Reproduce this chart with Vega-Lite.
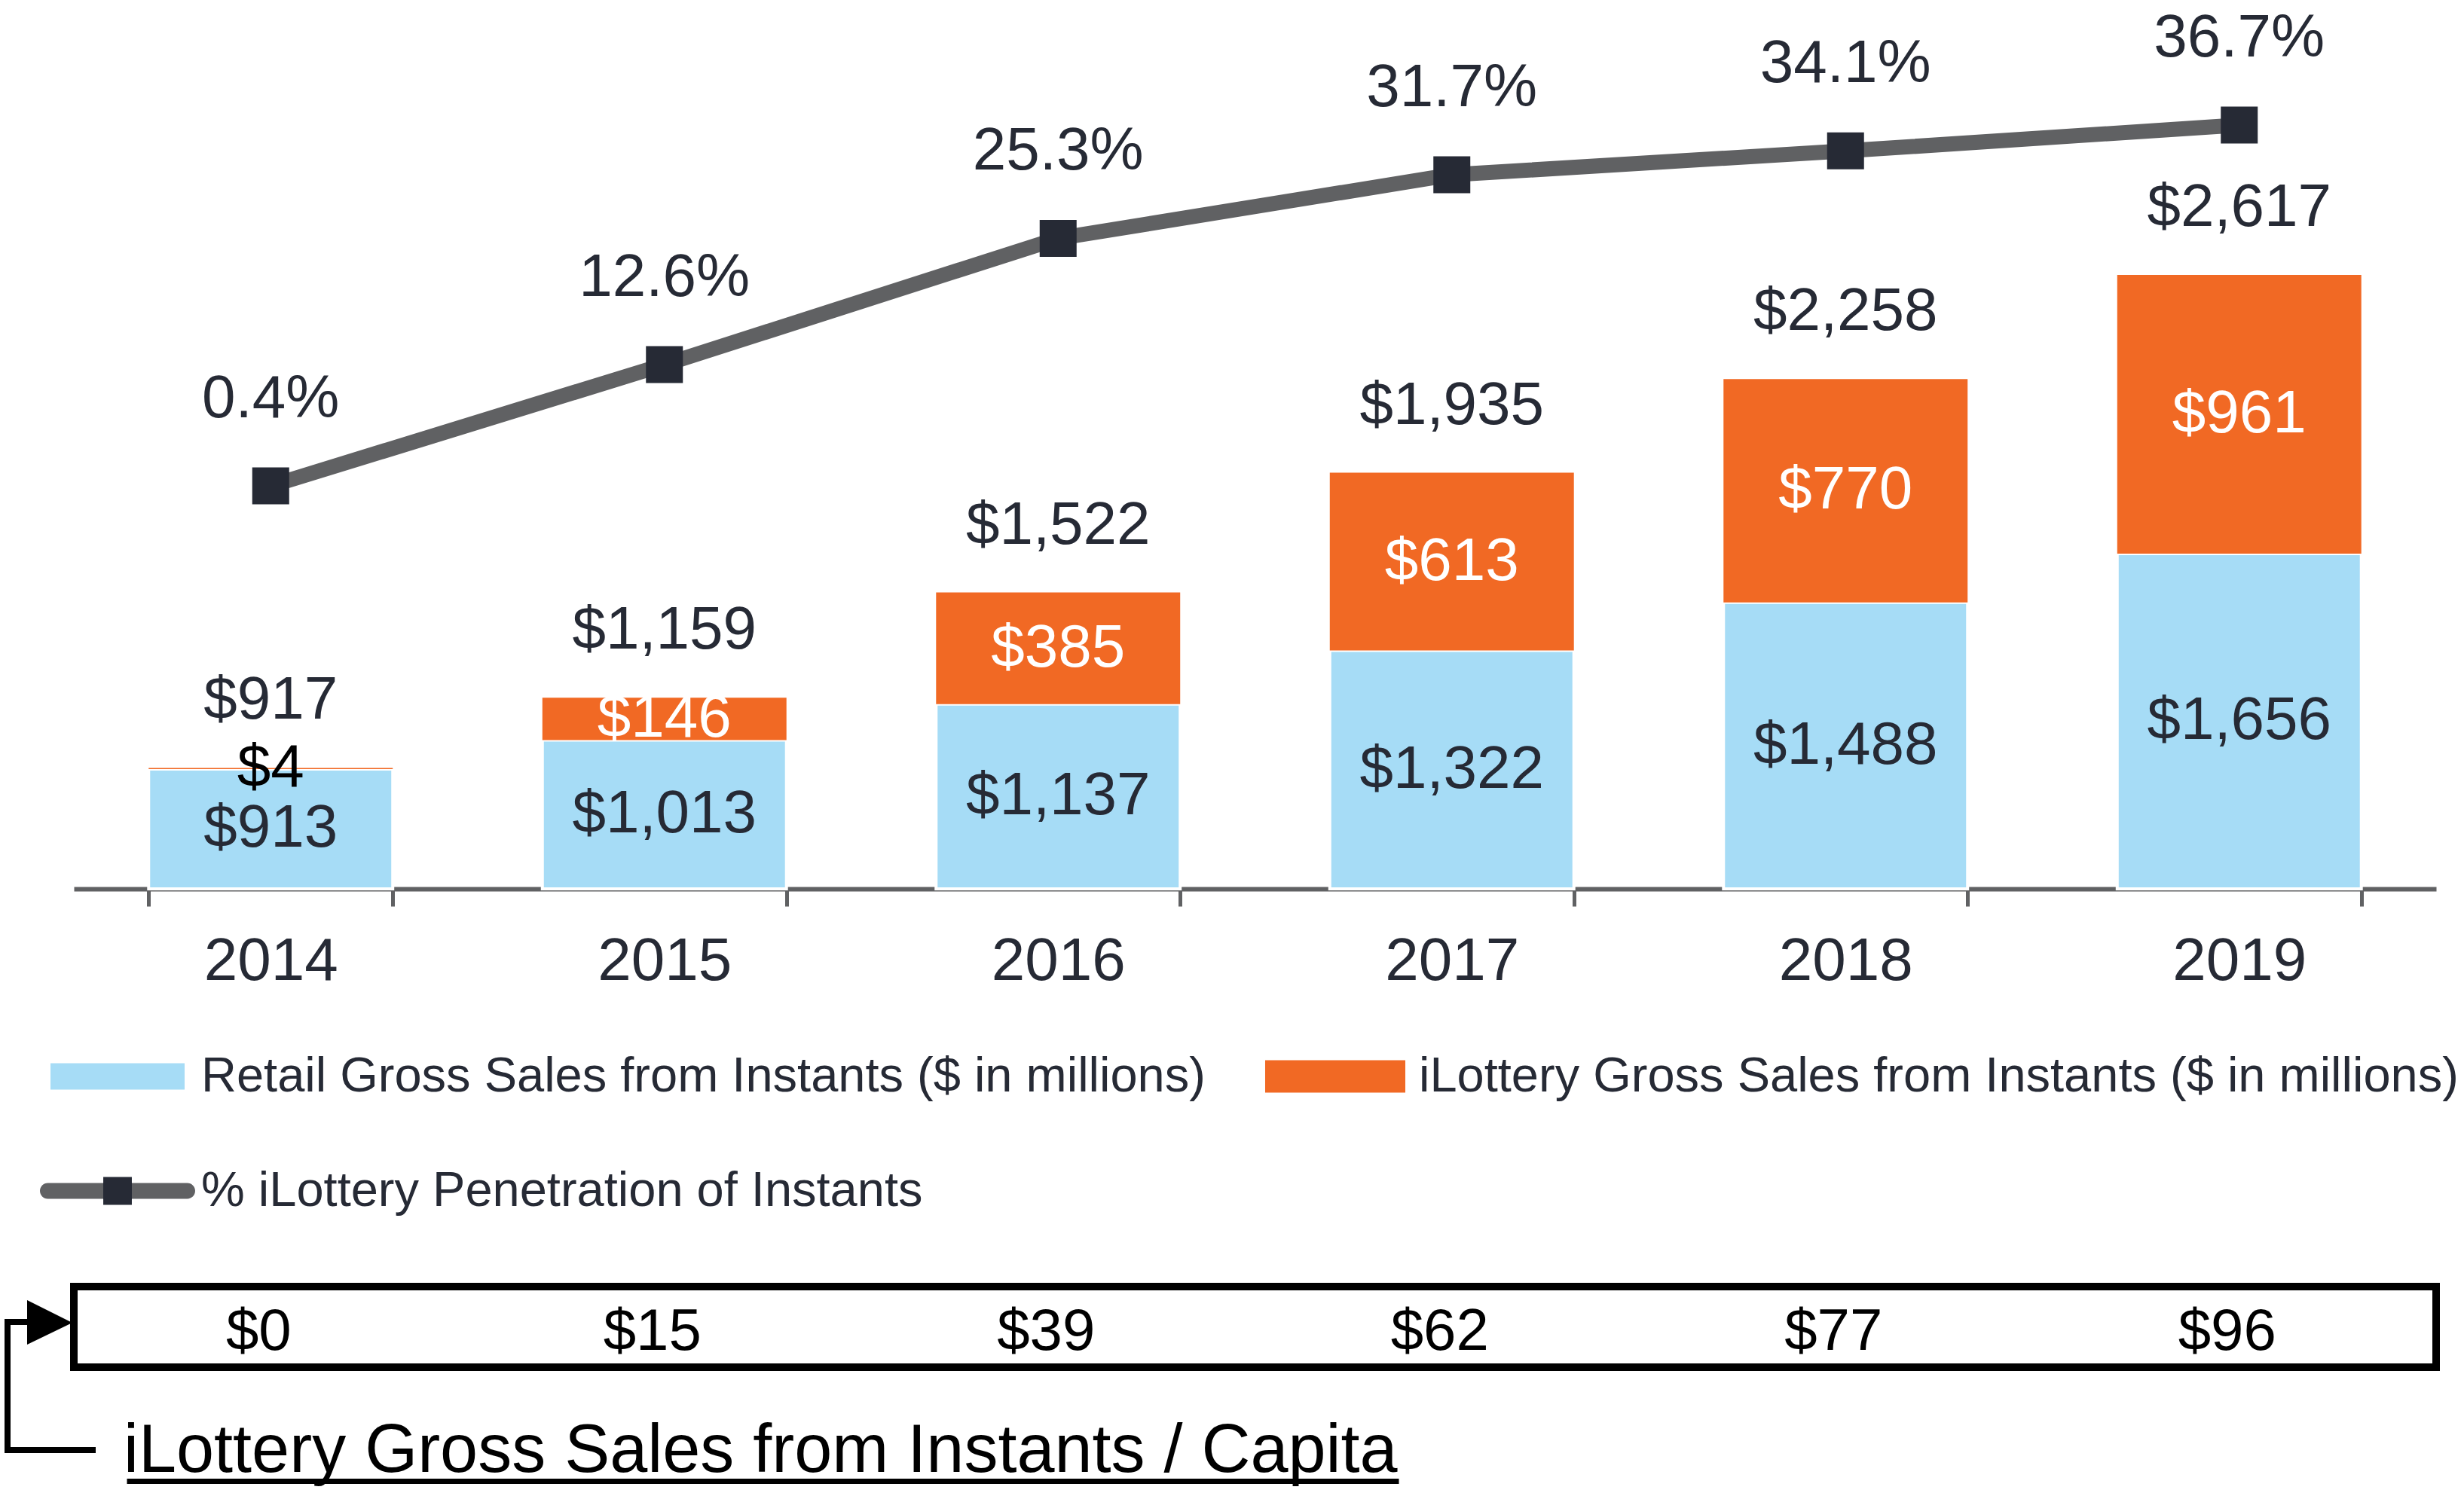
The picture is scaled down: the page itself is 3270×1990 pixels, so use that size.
{
  "$schema": "https://vega.github.io/schema/vega-lite/v6.json",
  "autosize": {"type": "pad"},
  "padding": {"left": 1, "top": 0, "right": 0, "bottom": 0},
  "background": "white",
  "config": {"font": "Liberation Sans", "view": {"stroke": null}},
  "bounds": "flush",
  "spacing": 528,
  "resolve": {"scale": {"color": "independent", "shape": "independent"}, "legend": {"color": "independent", "shape": "independent"}},
  "datasets": {
    "sales": [
      {"year": "2014", "retail": 913, "ilottery": 4, "total": 917, "pct": 0.004, "capita": 0},
      {"year": "2015", "retail": 1013, "ilottery": 146, "total": 1159, "pct": 0.126, "capita": 15},
      {"year": "2016", "retail": 1137, "ilottery": 385, "total": 1522, "pct": 0.253, "capita": 39},
      {"year": "2017", "retail": 1322, "ilottery": 613, "total": 1935, "pct": 0.317, "capita": 62},
      {"year": "2018", "retail": 1488, "ilottery": 770, "total": 2258, "pct": 0.341, "capita": 77},
      {"year": "2019", "retail": 1656, "ilottery": 961, "total": 2617, "pct": 0.367, "capita": 96}
    ]
  },
  "vconcat": [
    {
      "width": 3135,
      "height": 1180,
      "data": {"name": "sales"},
      "encoding": {
        "x": {
          "field": "year",
          "type": "ordinal",
          "scale": {"paddingInner": 0.38, "paddingOuter": 0.19},
          "axis": {
            "title": null,
            "labelAngle": 0,
            "domainColor": "#606163",
            "domainWidth": 6,
            "tickColor": "#606163",
            "tickWidth": 5,
            "tickSize": 23,
            "tickBand": "extent",
            "labelFont": "Liberation Sans",
            "labelFontSize": 80,
            "labelColor": "#262a35",
            "labelPadding": 34,
            "grid": false
          }
        }
      },
      "layer": [
        {
          "mark": {"type": "bar", "stroke": "white", "strokeWidth": 4},
          "encoding": {
            "y": {"field": "retail", "type": "quantitative", "scale": {"domain": [500, 3565], "zero": false, "nice": false}, "axis": null},
            "y2": {"datum": 500},
            "color": {
              "datum": "Retail Gross Sales from Instants ($ in millions)",
              "type": "nominal",
              "scale": {
                "domain": ["Retail Gross Sales from Instants ($ in millions)", "iLottery Gross Sales from Instants ($ in millions)", "% iLottery Penetration of Instants"],
                "range": ["#a6dcf6", "#f16924", {"expr": "{gradient: 'linear', x1: 0, y1: 0, x2: 1, y2: 0, stops: [{offset: 0, color: '#606163'}, {offset: 0.408, color: '#606163'}, {offset: 0.408, color: '#262a35'}, {offset: 0.592, color: '#262a35'}, {offset: 0.592, color: '#606163'}, {offset: 1, color: '#606163'}]}"}]
              },
              "legend": {
                "orient": "none",
                "legendX": -45,
                "legendY": 1326,
                "title": null,
                "columns": 2,
                "direction": "horizontal",
                "padding": 0,
                "labelFont": "Liberation Sans",
                "labelFontSize": 65,
                "labelColor": "#262a35",
                "labelLimit": 5000,
                "labelOffset": 8,
                "columnPadding": 69,
                "rowPadding": 16,
                "symbolSize": 42436,
                "symbolOpacity": 1,
                "symbolStrokeWidth": 0
              }
            }
          }
        },
        {
          "mark": {"type": "bar"},
          "encoding": {
            "y": {"field": "total", "type": "quantitative", "scale": {"domain": [500, 3565], "zero": false, "nice": false}, "axis": null},
            "y2": {"field": "retail"},
            "color": {"datum": "iLottery Gross Sales from Instants ($ in millions)", "type": "nominal"}
          }
        },
        {
          "mark": {"type": "line", "color": "#606163", "strokeWidth": 20},
          "encoding": {
            "y": {"field": "pct", "type": "quantitative", "scale": {"domain": [-0.4014, 0.4928], "zero": false, "nice": false}, "axis": null}
          }
        },
        {
          "mark": {"type": "point", "shape": "square", "size": 2401, "filled": true, "color": "#262a35", "opacity": 1},
          "encoding": {
            "y": {"field": "pct", "type": "quantitative", "scale": {"domain": [-0.4014, 0.4928], "zero": false, "nice": false}, "axis": null}
          }
        },
        {
          "mark": {"type": "point", "filled": true, "opacity": 0},
          "encoding": {
            "y": {"field": "pct", "type": "quantitative", "scale": {"domain": [-0.4014, 0.4928], "zero": false, "nice": false}, "axis": null},
            "color": {"datum": "% iLottery Penetration of Instants", "type": "nominal"},
            "shape": {
              "datum": "% iLottery Penetration of Instants",
              "type": "nominal",
              "scale": {
                "domain": ["Retail Gross Sales from Instants ($ in millions)", "iLottery Gross Sales from Instants ($ in millions)", "% iLottery Penetration of Instants"],
                "range": [
                  "M-0.864,-0.17H0.864V0.17H-0.864Z",
                  "M-0.903,-0.209H0.903V0.209H-0.903Z",
                  "M-0.898,-0.102H-0.184V-0.18H0.184V-0.102H0.898A0.102,0.102 0 0 1 0.898,0.102H0.184V0.18H-0.184V0.102H-0.898A0.102,0.102 0 0 1 -0.898,-0.102Z"
                ]
              }
            }
          }
        },
        {
          "mark": {"type": "text", "fontSize": 80, "color": "#262a35", "baseline": "alphabetic", "dy": -91},
          "encoding": {
            "y": {"field": "pct", "type": "quantitative", "scale": {"domain": [-0.4014, 0.4928], "zero": false, "nice": false}, "axis": null},
            "text": {"field": "pct", "type": "quantitative", "format": ".1%"}
          }
        },
        {
          "mark": {"type": "text", "fontSize": 80, "color": "#262a35", "baseline": "alphabetic", "dy": -65},
          "encoding": {
            "y": {"field": "total", "type": "quantitative", "scale": {"domain": [500, 3565], "zero": false, "nice": false}, "axis": null},
            "text": {"field": "total", "type": "quantitative", "format": "$,.0f"}
          }
        },
        {
          "transform": [{"calculate": "(datum.retail + 500) / 2", "as": "retailMid"}],
          "mark": {"type": "text", "fontSize": 80, "color": "#262a35", "baseline": "middle"},
          "encoding": {
            "y": {"field": "retailMid", "type": "quantitative", "scale": {"domain": [500, 3565], "zero": false, "nice": false}, "axis": null},
            "text": {"field": "retail", "type": "quantitative", "format": "$,.0f"}
          }
        },
        {
          "transform": [{"calculate": "(datum.retail + datum.total) / 2", "as": "iMid"}],
          "mark": {"type": "text", "fontSize": 80, "baseline": "middle"},
          "encoding": {
            "y": {"field": "iMid", "type": "quantitative", "scale": {"domain": [500, 3565], "zero": false, "nice": false}, "axis": null},
            "text": {"field": "ilottery", "type": "quantitative", "format": "$,.0f"},
            "color": {"condition": {"test": "datum.ilottery < 10", "value": "#000000"}, "value": "#ffffff"}
          }
        }
      ],
      "resolve": {"scale": {"y": "independent"}}
    },
    {
      "width": 3135,
      "height": 107,
      "data": {"name": "sales"},
      "view": {"stroke": "#000000", "strokeWidth": 10},
      "title": {
        "text": "iLottery Gross Sales from Instants / Capita",
        "orient": "bottom",
        "anchor": "start",
        "frame": "group",
        "font": "Liberation Sans",
        "fontSize": 90,
        "fontWeight": "normal",
        "color": "#000000",
        "offset": -83,
        "dx": 66
      },
      "mark": {"type": "text", "fontSize": 78, "baseline": "middle", "dx": -16, "dy": 7},
      "encoding": {
        "x": {
          "field": "year",
          "type": "ordinal",
          "scale": {"paddingInner": 0.38, "paddingOuter": 0.19},
          "axis": {
            "orient": "bottom",
            "offset": 151,
            "title": null,
            "labels": false,
            "ticks": false,
            "grid": false,
            "domainColor": "#000000",
            "domainWidth": 7,
            "domainDash": [1688, 5000],
            "domainDashOffset": 6618
          }
        },
        "text": {"field": "capita", "type": "quantitative", "format": "$,.0f"},
        "color": {
          "datum": "iLottery Gross Sales from Instants / Capita",
          "type": "nominal",
          "scale": {"domain": ["iLottery Gross Sales from Instants / Capita"], "range": ["#000000"]},
          "legend": {
            "orient": "none",
            "legendX": -92,
            "legendY": 59,
            "title": null,
            "padding": 0,
            "symbolType": "M-1,-1.2645H-0.5041V-1.6777L0.4876,-1.1818L-0.5041,-0.7025V-1.1322H-0.8678V1.5455H1V1.6777H-1Z",
            "symbolSize": 14641,
            "symbolFillColor": "#000000",
            "symbolStrokeWidth": 0,
            "symbolOpacity": 1,
            "labelExpr": "''",
            "labelOffset": 0
          }
        }
      }
    }
  ]
}
